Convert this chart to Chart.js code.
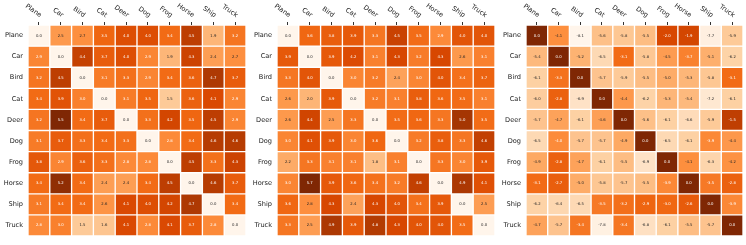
<!DOCTYPE html>
<html>
<head>
<meta charset="utf-8">
<script src="https://cdn.jsdelivr.net/npm/chart.js@4.4.1/dist/chart.umd.min.js"></script>
<style>
  html, body { margin: 0; padding: 0; background: #fff; }
  #wrap { display: flex; width: 746px; height: 245px; }
  .panel { position: relative; height: 245px; }
</style>
</head>
<body>
<div id="wrap">
  <div class="panel" style="width:249px"><canvas id="c1"></canvas></div>
  <div class="panel" style="width:249px"><canvas id="c2"></canvas></div>
  <div class="panel" style="width:248px"><canvas id="c3"></canvas></div>
</div>
<script>
// --- datos ---
const classes = ['Plane', 'Car', 'Bird', 'Cat', 'Deer', 'Dog', 'Frog', 'Horse', 'Ship', 'Truck'];

const matrixA = [
  [0.0, 2.5, 2.7, 3.5, 4.0, 4.0, 3.4, 4.5, 1.9, 3.2],
  [2.9, 0.0, 4.4, 3.7, 4.0, 2.9, 1.9, 4.3, 2.4, 2.7],
  [3.2, 4.5, 0.0, 3.1, 3.3, 2.9, 3.4, 3.6, 4.7, 3.7],
  [3.4, 3.9, 3.0, 0.0, 3.1, 3.5, 1.5, 3.6, 4.1, 2.9],
  [3.2, 5.5, 3.4, 3.7, 0.0, 3.3, 4.2, 3.5, 4.5, 2.9],
  [3.1, 3.7, 3.3, 3.4, 3.3, 0.0, 2.8, 3.4, 4.6, 4.6],
  [3.8, 2.9, 3.6, 3.3, 2.8, 2.8, 0.0, 4.5, 3.3, 4.3],
  [3.4, 5.2, 3.4, 2.4, 2.4, 3.4, 4.5, 0.0, 4.6, 3.7],
  [3.1, 3.4, 3.4, 2.6, 4.1, 4.0, 4.2, 4.7, 0.0, 3.4],
  [2.8, 3.0, 1.5, 1.6, 4.1, 2.8, 4.1, 3.7, 2.8, 0.0]
];

const matrixB = [
  [0.0, 3.6, 3.8, 3.9, 3.3, 4.5, 3.5, 2.9, 4.0, 4.0],
  [3.9, 0.0, 3.9, 4.2, 3.1, 4.3, 3.2, 4.3, 2.6, 3.1],
  [3.3, 4.0, 0.0, 3.0, 3.2, 2.4, 3.0, 4.0, 3.4, 3.7],
  [2.6, 2.0, 3.9, 0.0, 3.2, 3.1, 3.8, 3.6, 3.5, 3.1],
  [2.6, 4.4, 2.5, 3.3, 0.0, 3.5, 3.6, 3.3, 5.0, 3.5],
  [3.0, 4.1, 3.9, 3.0, 3.6, 0.0, 3.2, 3.8, 3.3, 4.6],
  [2.2, 3.3, 3.1, 3.1, 1.8, 3.1, 0.0, 3.3, 3.0, 3.9],
  [3.0, 5.7, 3.9, 3.6, 3.4, 3.2, 4.6, 0.0, 4.9, 4.1],
  [3.6, 2.8, 4.3, 2.4, 4.3, 4.0, 3.4, 3.9, 0.0, 2.5],
  [3.3, 2.5, 4.9, 3.9, 4.8, 4.3, 4.0, 4.0, 3.5, 0.0]
];

const matrixC = [
  [0.0, -4.1, -8.1, -5.6, -5.8, -5.5, -2.0, -1.9, -7.7, -5.9],
  [-5.4, 0.0, -5.2, -6.5, -3.1, -5.8, -4.5, -3.7, -5.1, -6.2],
  [-6.1, -3.3, 0.0, -5.7, -5.9, -5.5, -5.0, -5.3, -5.8, -3.1],
  [-6.0, -2.8, -6.9, 0.0, -4.4, -6.2, -5.3, -5.4, -7.2, -6.1],
  [-5.7, -4.7, -6.1, -4.6, 0.0, -5.6, -6.1, -6.6, -5.9, -1.5],
  [-6.5, -4.0, -5.7, -5.7, -4.9, 0.0, -6.5, -6.1, -3.9, -4.4],
  [-4.9, -2.8, -4.7, -6.1, -5.5, -6.9, 0.0, -4.1, -6.3, -4.2],
  [-3.1, -2.7, -5.0, -5.8, -5.7, -5.5, -3.9, 0.0, -3.5, -2.8],
  [-6.2, -6.4, -6.5, -3.5, -3.2, -2.9, -3.0, -2.6, 0.0, -3.9],
  [-4.7, -5.7, -3.4, -7.8, -3.4, -6.8, -6.1, -5.5, -5.7, 0.0]
];

// --- paleta Oranges ---
const oranges = ['#fff5eb', '#fee6ce', '#fdd0a2', '#fdae6b', '#fd8d3c', '#f16913', '#d94801', '#a63603', '#7f2704'];

function hexToRgb(h) {
  return [parseInt(h.slice(1, 3), 16), parseInt(h.slice(3, 5), 16), parseInt(h.slice(5, 7), 16)];
}

function orangeAt(t) {
  t = Math.max(0, Math.min(1, t));
  const pos = t * (oranges.length - 1);
  const i = Math.min(Math.floor(pos), oranges.length - 2);
  const f = pos - i;
  const a = hexToRgb(oranges[i]), b = hexToRgb(oranges[i + 1]);
  const c = a.map((v, k) => Math.round(v + (b[k] - v) * f));
  return `rgb(${c[0]},${c[1]},${c[2]})`;
}

// texto de las celdas
const cellText = {
  id: 'cellText',
  afterDatasetsDraw(chart) {
    const ctx = chart.ctx;
    const m = chart.options.plugins.cellText;
    ctx.save();
    ctx.font = '3.8px "DejaVu Sans"';
    ctx.textAlign = 'center';
    ctx.textBaseline = 'middle';
    chart.data.datasets.forEach((ds, r) => {
      chart.getDatasetMeta(r).data.forEach((el, j) => {
        const v = m.matrix[r][j];
        const t = (v - m.min) / (m.max - m.min);
        const p = el.getCenterPoint();
        ctx.fillStyle = t > 0.5 ? '#ffffff' : '#262626';
        ctx.fillText(v.toFixed(1), p.x, p.y);
      });
    });
    ctx.restore();
  }
};

// etiquetas de columnas inclinadas
const colLabels = {
  id: 'colLabels',
  afterDraw(chart) {
    const ctx = chart.ctx;
    const xs = chart.scales.x;
    ctx.save();
    ctx.font = '6.6px "DejaVu Sans"';
    ctx.fillStyle = '#222';
    ctx.textAlign = 'right';
    ctx.textBaseline = 'middle';
    classes.forEach((c, i) => {
      const x = xs.getPixelForValue(i);
      ctx.save();
      ctx.translate(x + 2, 16);
      ctx.rotate(35 * Math.PI / 180);
      ctx.fillText(c, 0, 0);
      ctx.restore();
    });
    ctx.restore();
  }
};

function makeHeatmap(id, matrix) {
  const flat = matrix.flat();
  const min = Math.min(...flat), max = Math.max(...flat);

  const datasets = matrix.map((row, r) => ({
    data: row.map(() => [r - 0.5, r + 0.5]),
    backgroundColor: row.map(v => orangeAt((v - min) / (max - min))),
    borderColor: '#ffffff',
    borderWidth: 1,
    borderSkipped: false,
    grouped: false,
    barPercentage: 1,
    categoryPercentage: 1
  }));

  new Chart(document.getElementById(id), {
    type: 'bar',
    data: { labels: classes, datasets: datasets },
    options: {
      responsive: true,
      maintainAspectRatio: false,
      animation: false,
      layout: { padding: { top: 0, right: 3, bottom: 7, left: 0 } },
      plugins: {
        legend: { display: false },
        tooltip: { enabled: false },
        cellText: { matrix: matrix, min: min, max: max }
      },
      scales: {
        x: {
          position: 'top',
          ticks: { display: false },
          grid: { drawOnChartArea: false, drawTicks: true, tickLength: 3, offset: false, color: '#333' },
          border: { display: false },
          afterFit(scale) { scale.height = 25; }
        },
        y: {
          type: 'linear',
          reverse: true,
          min: -0.5,
          max: 9.5,
          afterBuildTicks(scale) { scale.ticks = classes.map((c, i) => ({ value: i })); },
          ticks: {
            callback: v => classes[v],
            font: { family: 'DejaVu Sans', size: 6.6 },
            color: '#222',
            padding: 5
          },
          grid: { display: false, drawTicks: false },
          border: { display: false },
          afterFit(scale) { scale.width = 28; }
        }
      }
    },
    plugins: [cellText, colLabels]
  });
}

makeHeatmap('c1', matrixA);
makeHeatmap('c2', matrixB);
makeHeatmap('c3', matrixC);
</script>
</body>
</html>
